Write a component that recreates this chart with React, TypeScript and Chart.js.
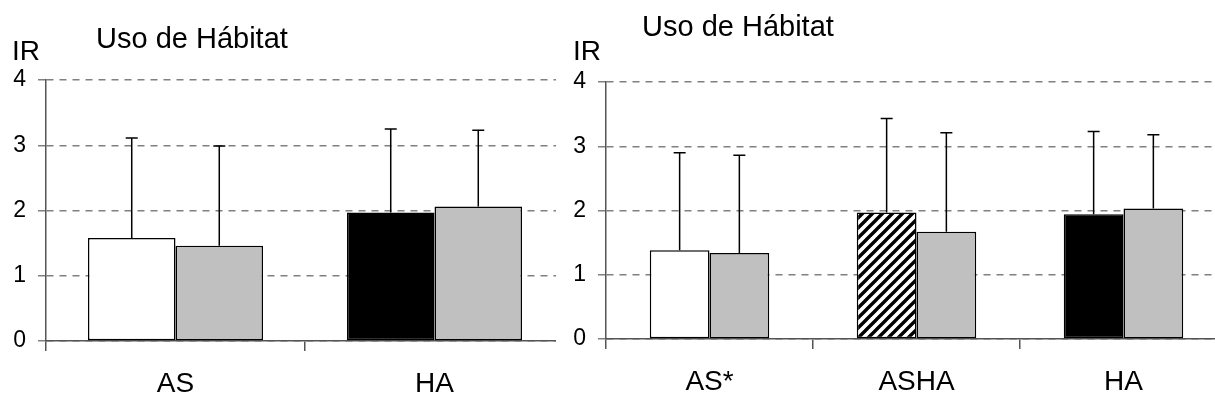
import React, { useEffect, useRef } from "react";
import { Chart, registerables } from "chart.js";

Chart.register(...registerables);

// Left panel: two habitat groups
const leftCategories = ["AS", "HA"];
const leftSeriesA = [1.58, 1.97];
const leftErrA = [1.53, 1.28];
const leftSeriesB = [1.46, 2.06];
const leftErrB = [1.53, 1.17];

// Right panel: three habitat groups
const rightCategories = ["AS*", "ASHA", "HA"];
const rightSeriesA = [1.38, 1.97, 1.94];
const rightErrA = [1.52, 1.46, 1.29];
const rightSeriesB = [1.34, 1.67, 2.03];
const rightErrB = [1.52, 1.54, 1.15];

const yTickLabels = ["0", "1", "2", "3", "4"];

const FONT = "'Liberation Sans', Arial, sans-serif";
const GRAY = "#c0c0c0";

function makeHatch(): CanvasPattern | string {
  const c = document.createElement("canvas");
  c.width = 10;
  c.height = 10;
  const g = c.getContext("2d");
  if (!g) return "#888";
  g.fillStyle = "#fff";
  g.fillRect(0, 0, 10, 10);
  g.strokeStyle = "#000";
  g.lineWidth = 3.4;
  g.beginPath();
  g.moveTo(-5, 5);
  g.lineTo(5, -5);
  g.moveTo(0, 10);
  g.lineTo(10, 0);
  g.moveTo(5, 15);
  g.lineTo(15, 5);
  g.stroke();
  return g.createPattern(c, "repeat") || "#888";
}

const errorBars = {
  id: "errorBars",
  afterDatasetsDraw(chart: any, _args: any, opts: any) {
    const { ctx } = chart;
    const y = chart.scales.y;
    const errs: number[][] = opts.errors || [];
    ctx.save();
    ctx.strokeStyle = "#000";
    ctx.lineWidth = 1.5;
    chart.data.datasets.forEach((ds: any, di: number) => {
      const meta = chart.getDatasetMeta(di);
      meta.data.forEach((bar: any, i: number) => {
        const e = errs[di] ? errs[di][i] : 0;
        const top = y.getPixelForValue(ds.data[i] + e);
        ctx.beginPath();
        ctx.moveTo(bar.x, bar.y);
        ctx.lineTo(bar.x, top);
        ctx.moveTo(bar.x - 6, top);
        ctx.lineTo(bar.x + 6, top);
        ctx.stroke();
      });
    });
    ctx.restore();
  },
};

const panelText = {
  id: "panelText",
  afterDraw(chart: any, _args: any, opts: any) {
    const { ctx } = chart;
    ctx.save();
    ctx.fillStyle = "#000";
    ctx.textAlign = "left";
    ctx.textBaseline = "alphabetic";
    ctx.font = `29px ${FONT}`;
    ctx.fillText(opts.title, opts.titleX, opts.titleY);
    ctx.font = `28px ${FONT}`;
    ctx.fillText("IR", opts.irX, opts.irY);
    ctx.restore();
  },
};

type PanelProps = {
  categories: string[];
  a: number[];
  b: number[];
  errA: number[];
  errB: number[];
  colorsA: () => (string | CanvasPattern)[];
  width: number;
  axisWidth: number;
  top: number;
  xAxisHeight: number;
  padRight: number;
  catPct: number;
  tickPad: number;
  text: { title: string; titleX: number; titleY: number; irX: number; irY: number };
};

function Panel(p: PanelProps) {
  const ref = useRef<HTMLCanvasElement>(null);
  useEffect(() => {
    if (!ref.current) return;
    const chart = new Chart(ref.current, {
      type: "bar",
      data: {
        labels: p.categories,
        datasets: [
          {
            data: p.a,
            backgroundColor: p.colorsA(),
            borderColor: "#000",
            borderWidth: 1.5,
            borderSkipped: false,
            categoryPercentage: p.catPct,
            barPercentage: 1,
          },
          {
            data: p.b,
            backgroundColor: GRAY,
            borderColor: "#000",
            borderWidth: 1.5,
            borderSkipped: false,
            categoryPercentage: p.catPct,
            barPercentage: 1,
          },
        ],
      },
      options: {
        responsive: false,
        animation: false,
        devicePixelRatio: 1,
        layout: { padding: { top: p.top, left: 0, right: p.padRight, bottom: 0 } },
        plugins: {
          legend: { display: false },
          tooltip: { enabled: false },
          errorBars: { errors: [p.errA, p.errB] },
          panelText: p.text,
        } as any,
        scales: {
          x: {
            offset: true,
            grid: {
              display: true,
              offset: true,
              drawOnChartArea: false,
              drawTicks: true,
              tickLength: 10,
              color: "#555",
              lineWidth: 1.5,
            },
            border: { display: true, color: "#555", width: 1.5 },
            ticks: {
              color: "#000",
              font: { family: FONT, size: 28 },
              padding: 16,
              maxRotation: 0,
              autoSkip: false,
            },
            afterFit: (s: any) => {
              s.height = p.xAxisHeight;
            },
          },
          y: {
            min: 0,
            max: 4,
            grid: {
              color: "#808080",
              lineWidth: 1.5,
              tickLength: 8,
              tickColor: "#808080",
              tickBorderDash: [7, 6],
            },
            border: { display: true, color: "#555", width: 1.5, dash: [7, 6] },
            ticks: {
              stepSize: 1,
              color: "#000",
              font: { family: FONT, size: 23 },
              padding: p.tickPad,
              callback: (_v: any, i: number) => yTickLabels[i],
            },
            afterFit: (s: any) => {
              s.width = p.axisWidth;
            },
          },
        },
      },
      plugins: [errorBars, panelText],
    });
    return () => chart.destroy();
  }, []);
  return <canvas ref={ref} width={p.width} height={405} style={{ display: "block" }} />;
}

export default function App() {
  return (
    <div
      style={{
        position: "fixed",
        left: 0,
        top: 0,
        width: 1215,
        height: 405,
        overflow: "hidden",
        background: "#fff",
      }}
    >
      <div style={{ position: "absolute", left: 0, top: 0 }}>
        <Panel
          categories={leftCategories}
          a={leftSeriesA}
          b={leftSeriesB}
          errA={leftErrA}
          errB={leftErrB}
          colorsA={() => ["#fff", "#000"]}
          width={570}
          axisWidth={46}
          top={80}
          xAxisHeight={64}
          padRight={6}
          catPct={0.676}
          tickPad={12}
          text={{ title: "Uso de Hábitat", titleX: 96, titleY: 48, irX: 12, irY: 60 }}
        />
      </div>
      <div style={{ position: "absolute", left: 556, top: 0, background: "#fff" }}>
        <Panel
          categories={rightCategories}
          a={rightSeriesA}
          b={rightSeriesB}
          errA={rightErrA}
          errB={rightErrB}
          colorsA={() => ["#fff", makeHatch(), "#000"]}
          width={680}
          axisWidth={50}
          top={82}
          xAxisHeight={66}
          padRight={9}
          catPct={0.577}
          tickPad={12}
          text={{ title: "Uso de Hábitat", titleX: 86, titleY: 36, irX: 17, irY: 60 }}
        />
      </div>
    </div>
  );
}
